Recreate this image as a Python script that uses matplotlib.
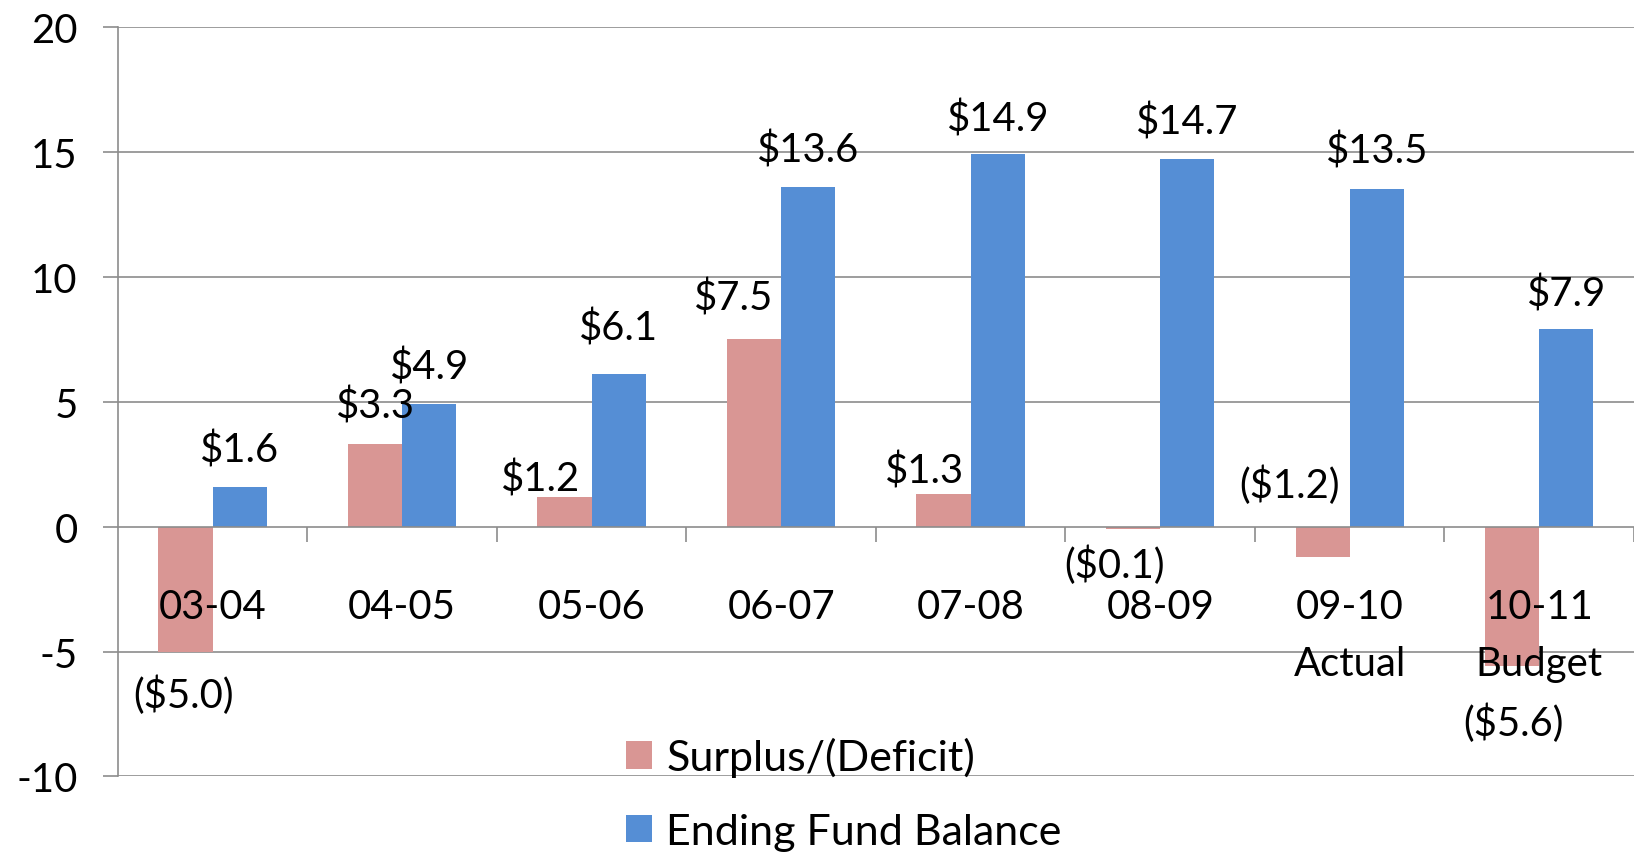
import matplotlib

matplotlib.use("Agg")

import matplotlib.pyplot as plt
import numpy as np
from matplotlib.patches import Patch

# fiscal years and values ($ millions)
categories = ["03-04", "04-05", "05-06", "06-07", "07-08", "08-09", "09-10\nActual", "10-11\nBudget"]
surplus = [-5.0, 3.3, 1.2, 7.5, 1.3, -0.1, -1.2, -5.6]
fund_balance = [1.6, 4.9, 6.1, 13.6, 14.9, 14.7, 13.5, 7.9]
y_ticks = [-10, -5, 0, 5, 10, 15, 20]

# label offsets in points (hand placed in the original chart)
surplus_offsets = [(-1.5, -31), (0, 28), (-17, 13), (-15, 30), (-14, 17), (-13.5, -25), (-24, 52), (1, -40)]
balance_offsets = [(0, 27), (0, 27), (0, 34), (0, 27), (0, 26), (0, 27), (0, 28), (0, 26)]

RED = "#D99694"
BLUE = "#558ED5"
GRID = "#8C8C8C"

plt.rcParams["font.family"] = ["Lato", "DejaVu Sans"]
plt.rcParams["font.size"] = 28.8


def fmt_money(v: float) -> str:
    if v < 0:
        return f"(${abs(v):.1f})"
    return f"${v:.1f}"


fig = plt.figure(figsize=(16.34, 8.54), dpi=100)
ax = fig.add_axes([0.0721, 0.0897, 0.9279, 0.8774])

x = np.arange(len(categories))
width = 0.286

# gridlines drawn as plain lines so the tick labels can sit on top of the bars
for t in y_ticks:
    if t != 0:
        ax.axhline(t, color=GRID, linewidth=1.2, zorder=0)

bars_s = ax.bar(x - width / 2, surplus, width, color=RED, zorder=1)
bars_b = ax.bar(x + width / 2, fund_balance, width, color=BLUE, zorder=1)

for bars, vals, offsets in ((bars_s, surplus, surplus_offsets), (bars_b, fund_balance, balance_offsets)):
    for rect, v, (dx, dy) in zip(bars, vals, offsets):
        cx = rect.get_x() + rect.get_width() / 2
        ax.annotate(fmt_money(v), xy=(cx, v), xytext=(dx, dy), textcoords="offset points",
                    ha="center", va="center", color="black", zorder=4)

ax.set_xlim(-0.5, len(categories) - 0.5)
ax.set_ylim(-10, 20)
ax.set_yticks(y_ticks)
ax.set_yticklabels([str(t) for t in y_ticks])
ax.set_axisbelow(False)

for side in ("top", "right"):
    ax.spines[side].set_visible(False)
ax.spines["left"].set_color(GRID)
ax.spines["left"].set_linewidth(1.2)
ax.spines["bottom"].set_position(("data", 0))
ax.spines["bottom"].set_color(GRID)
ax.spines["bottom"].set_linewidth(1.2)

ax.set_xticks(x)
ax.set_xticklabels(categories, linespacing=1.68)
ax.set_xticks(np.arange(len(categories)) + 0.5, minor=True)
ax.tick_params(axis="x", which="major", length=0, pad=44)
ax.tick_params(axis="x", which="minor", length=11, width=1.2, color=GRID, direction="out")
ax.tick_params(axis="y", length=11, width=1.2, color=GRID, pad=18)

handles = [Patch(facecolor=RED, edgecolor="none"), Patch(facecolor=BLUE, edgecolor="none")]
fig.legend(handles, ["Surplus/(Deficit)", "Ending Fund Balance"], loc="upper left",
           bbox_to_anchor=(0.370, 0.161), frameon=False, borderpad=0, fontsize=31,
           handlelength=0.6, handleheight=0.6, handletextpad=0.33, labelspacing=0.83)

fig.savefig("out.png", dpi=100)
